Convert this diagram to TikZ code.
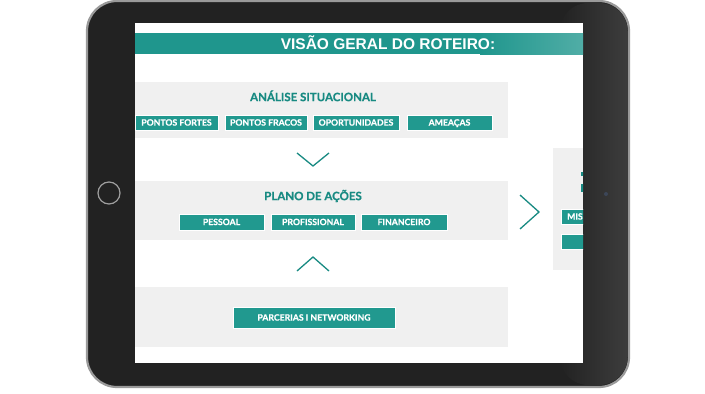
\documentclass[tikz,border=0pt]{standalone}
\usepackage{fontspec}
\setmainfont{Lato}
\newfontfamily\heavyfont[BoldFeatures={FakeBold=0.6}]{Lato}
\newfontfamily\titlefont{Liberation Sans}
\definecolor{bodyc}{HTML}{222222}
\definecolor{rimc}{HTML}{9A9A9A}
\definecolor{tealh}{HTML}{1F968D}
\definecolor{tealb}{HTML}{21998F}
\definecolor{tealt}{HTML}{188A82}
\definecolor{panelc}{HTML}{F0F0F0}
\definecolor{camc}{HTML}{3C4658}
\begin{document}
\begin{tikzpicture}[x=1pt,y=-1pt,
  btn/.style={fill=tealb, draw=white, line width=0.8pt, text=white,
    font=\heavyfont\bfseries\fontsize{8.7}{8.7}\selectfont, inner sep=0pt,
    text height=6.2, text depth=0, minimum height=15},
  ptitle/.style={text=tealt, font=\heavyfont\bfseries\fontsize{11.5}{11.5}\selectfont, inner sep=0pt,
    text height=8.3, text depth=0},
  chev/.style={draw=tealt, line width=1.3pt},
  panel/.style={fill=panelc}]
\useasboundingbox (0,0) rectangle (705,394);
\fill[white] (0,0) rectangle (705,394);
% tablet body
\draw[rimc, line width=2.2pt, fill=bodyc, rounded corners=30] (87,1) rectangle (629,387);
\shade[left color=bodyc, right color=bodyc!88!white, rounded corners=28] (560,3) rectangle (627.5,385);
\fill[white] (135,23) rectangle (583,363);
\node[circle, draw=gray!75, line width=1.2pt, minimum size=22, inner sep=0pt] (home) at (109,193) {};
\node[circle, fill=camc, minimum size=4, inner sep=0pt] (cam) at (606,194) {};
\begin{scope}
\clip (135,23) rectangle (583,363);
% header
\fill[tealh] (135,33) rectangle (583,54);
\shade[left color=tealh, right color=tealh!78!white] (480,33) rectangle (583,54);
\node[text=white, font=\titlefont\bfseries\fontsize{15.5}{15.5}\selectfont, inner sep=0pt,
  text height=11.2, text depth=0] (title) at (388,44) {VISÃO GERAL DO ROTEIRO:};
% panels
\fill[panel] (135,82) rectangle (508,138);
\fill[panel] (135,181) rectangle (508,240);
\fill[panel] (135,287) rectangle (508,347);
\fill[panel] (553,148) rectangle (583,270);
% panel 1
\node[ptitle] (t1) at (313,97) {ANÁLISE SITUACIONAL};
\node[btn, minimum width=83] (b11) at (176.5,122.5) {PONTOS FORTES};
\node[btn, minimum width=82] (b12) at (266,122.5) {PONTOS FRACOS};
\node[btn, minimum width=86] (b13) at (356,122.5) {OPORTUNIDADES};
\node[btn, minimum width=85] (b14) at (449.5,122.5) {AMEAÇAS};
% chevron down
\draw[chev] (297,153) -- (313,166) -- (329,153);
% panel 2
\node[ptitle] (t2) at (313,196) {PLANO DE AÇÕES};
\node[btn, minimum width=85, minimum height=16] (b21) at (221.5,222) {PESSOAL};
\node[btn, minimum width=84, minimum height=16] (b22) at (313,222) {PROFISSIONAL};
\node[btn, minimum width=86, minimum height=16] (b23) at (404,222) {FINANCEIRO};
% chevron up
\draw[chev] (297,271) -- (313,257) -- (329,271);
% panel 3
\node[btn, minimum width=162, minimum height=21] (b31) at (314,317.5) {PARCERIAS I NETWORKING};
% chevron right
\draw[chev] (520,195) -- (539,212) -- (520,229);
% right panel (cut off)
\fill[tealt] (581,172) rectangle (584,176);
\fill[tealt] (581,184) rectangle (584,192);
\node[btn, minimum width=85, anchor=west] (b41) at (561,216.5) {};
\node[text=white, font=\heavyfont\bfseries\fontsize{8.7}{8.7}\selectfont, inner sep=0pt,
  text height=6.2, text depth=0, anchor=west] (b41t) at (567,216.5) {MIS};
\node[btn, minimum width=85, anchor=west] (b42) at (561,241.5) {};
\end{scope}
\end{tikzpicture}
\end{document}
